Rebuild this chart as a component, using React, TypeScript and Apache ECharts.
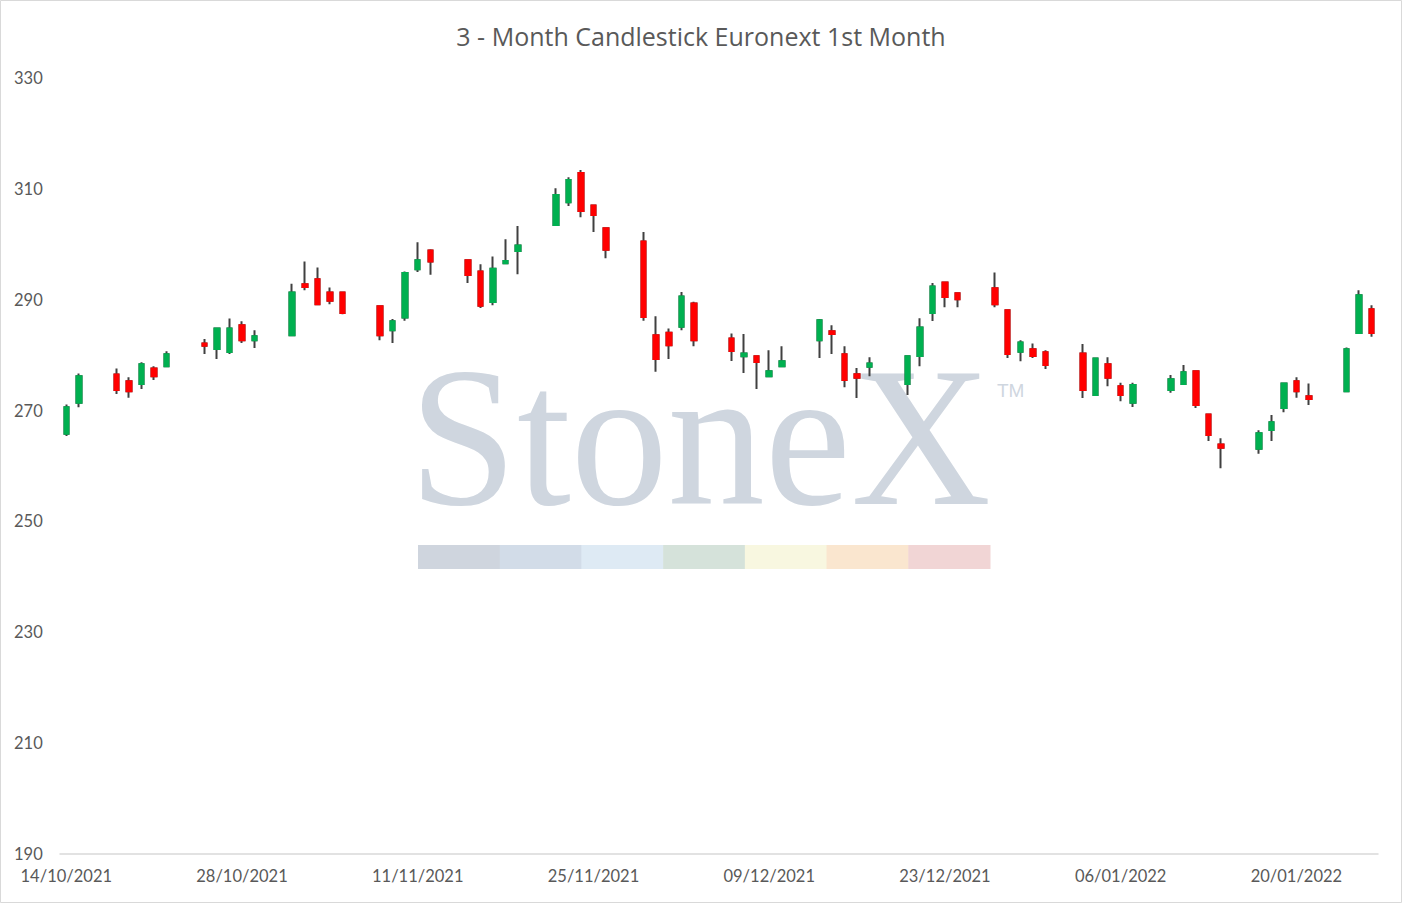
import React, { useEffect, useRef } from "react";
import * as echarts from "echarts";

const TITLE = "3 - Month Candlestick Euronext 1st Month";

const TRADING_DAYS = [
  "14/10/2021", "15/10/2021",
  "18/10/2021", "19/10/2021", "20/10/2021", "21/10/2021", "22/10/2021",
  "25/10/2021", "26/10/2021", "27/10/2021", "28/10/2021", "29/10/2021",
  "01/11/2021", "02/11/2021", "03/11/2021", "04/11/2021", "05/11/2021",
  "08/11/2021", "09/11/2021", "10/11/2021", "11/11/2021", "12/11/2021",
  "15/11/2021", "16/11/2021", "17/11/2021", "18/11/2021", "19/11/2021",
  "22/11/2021", "23/11/2021", "24/11/2021", "25/11/2021", "26/11/2021",
  "29/11/2021", "30/11/2021", "01/12/2021", "02/12/2021", "03/12/2021",
  "06/12/2021", "07/12/2021", "08/12/2021", "09/12/2021", "10/12/2021",
  "13/12/2021", "14/12/2021", "15/12/2021", "16/12/2021", "17/12/2021",
  "20/12/2021", "21/12/2021", "22/12/2021", "23/12/2021", "24/12/2021",
  "27/12/2021", "28/12/2021", "29/12/2021", "30/12/2021", "31/12/2021",
  "03/01/2022", "04/01/2022", "05/01/2022", "06/01/2022", "07/01/2022",
  "10/01/2022", "11/01/2022", "12/01/2022", "13/01/2022", "14/01/2022",
  "17/01/2022", "18/01/2022", "19/01/2022", "20/01/2022", "21/01/2022",
  "24/01/2022", "25/01/2022", "26/01/2022",
];

const OPEN = [
  265.8, 271.4,
  276.5, 275.3, 274.8, 277.6, 278.0,
  282.1, 281.1, 280.55, 285.4, 282.7,
  283.6, 292.8, 293.7, 291.3, 291.3,
  288.8, 284.5, 286.8, 295.5, 298.9,
  297.1, 295.1, 289.6, 296.6, 298.8,
  303.5, 307.6, 312.85, 307.0, 302.9,
  300.5, 283.6, 284.05, 285.1, 289.3,
  283.0, 279.8, 279.8, 276.2, 278.0,
  282.7, 284.3, 280.15, 276.55, 277.9,
  274.8, 279.85, 287.6, 293.1, 291.15,
  292.05, 288.1, 280.6, 281.05, 280.5,
  280.3, 272.8, 278.35, 274.4, 271.4,
  273.7, 274.8, 277.1, 269.3, 263.9,
  263.1, 266.5, 270.45, 275.3, 272.6,
  273.5, 284.0, 288.3,
];

const CLOSE = [
  270.6, 276.2,
  273.7, 273.5, 278.35, 276.2, 280.15,
  281.7, 284.8, 284.8, 282.7, 283.4,
  291.3, 292.3, 289.2, 289.8, 287.6,
  283.6, 286.1, 294.8, 297.1, 296.9,
  294.45, 288.9, 295.6, 297.0, 299.8,
  308.9, 311.6, 306.0, 305.3, 299.0,
  286.9, 279.3, 281.8, 290.6, 282.7,
  280.75, 280.3, 278.75, 277.1, 278.9,
  286.3, 283.8, 275.5, 275.9, 278.5,
  279.8, 285.0, 292.4, 290.5, 290.1,
  289.2, 280.2, 282.3, 279.85, 278.2,
  273.7, 279.4, 275.9, 272.8, 274.6,
  275.65, 276.9, 271.0, 265.6, 263.3,
  265.9, 267.9, 274.9, 273.5, 272.1,
  281.05, 290.8, 284.0,
];

const LOW = [
  265.4, 270.6,
  273.0, 272.3, 273.9, 275.5, 278.0,
  280.2, 279.3, 280.2, 282.2, 281.3,
  283.4, 291.7, 289.0, 289.2, 287.4,
  282.7, 282.2, 286.2, 295.0, 294.5,
  293.0, 288.5, 289.0, 296.4, 294.6,
  303.4, 306.9, 304.9, 302.2, 297.5,
  286.2, 277.0, 279.3, 284.5, 281.6,
  278.95, 276.8, 273.9, 276.2, 278.0,
  279.5, 280.2, 274.2, 272.25, 276.2,
  272.8, 278.0, 286.15, 288.65, 288.65,
  288.65, 279.5, 278.9, 279.5, 277.5,
  272.25, 272.7, 274.4, 271.7, 270.65,
  273.2, 274.7, 270.45, 264.5, 259.6,
  262.2, 264.5, 269.7, 272.3, 271.0,
  273.5, 283.9, 283.3,
];

const HIGH = [
  271.1, 276.7,
  277.6, 276.0, 278.7, 278.0, 280.7,
  282.9, 284.9, 286.6, 286.1, 284.5,
  292.9, 296.9, 295.8, 292.2, 291.4,
  289.0, 286.5, 295.1, 300.35, 299.1,
  297.2, 296.4, 297.8, 300.9, 303.3,
  310.1, 312.1, 313.4, 307.1, 303.0,
  302.2, 287.0, 284.8, 291.4, 289.65,
  283.9, 283.8, 279.9, 280.9, 281.6,
  286.5, 285.4, 281.6, 277.7, 279.6,
  280.0, 286.65, 293.0, 293.2, 291.3,
  294.9, 288.2, 282.7, 282.1, 280.9,
  282.0, 279.5, 279.6, 275.0, 275.0,
  276.4, 278.2, 277.2, 269.4, 265.0,
  266.45, 269.2, 275.0, 276.0, 274.9,
  281.4, 291.7, 289.0,
];

const Y_MIN = 190;
const Y_MAX = 330;
const Y_STEP = 20;

const WATERMARK_COLORS = [
  "#cfd5de", "#d2dce8", "#deeaf4", "#d5e2da", "#f8f7e0", "#fae6cf", "#f1d5d5",
];

function buildCalendar(): string[] {
  const out: string[] = [];
  const d = new Date(Date.UTC(2021, 9, 14));
  const end = Date.UTC(2022, 0, 26);
  while (d.getTime() <= end) {
    const dd = String(d.getUTCDate()).padStart(2, "0");
    const mm = String(d.getUTCMonth() + 1).padStart(2, "0");
    out.push(`${dd}/${mm}/${d.getUTCFullYear()}`);
    d.setUTCDate(d.getUTCDate() + 1);
  }
  return out;
}

export default function App() {
  const ref = useRef<HTMLDivElement>(null);

  useEffect(() => {
    document.body.style.margin = "0";
    if (!ref.current) return;
    const chart = echarts.init(ref.current, undefined, { renderer: "svg" });

    const cats = buildCalendar();
    const empty = ["-", "-", "-", "-"];
    const wickData = cats.map((c) => {
      const i = TRADING_DAYS.indexOf(c);
      return i < 0 ? empty : [OPEN[i], CLOSE[i], LOW[i], HIGH[i]];
    });
    const bodyData = cats.map((c) => {
      const i = TRADING_DAYS.indexOf(c);
      return i < 0
        ? empty
        : [OPEN[i], CLOSE[i], Math.min(OPEN[i], CLOSE[i]), Math.max(OPEN[i], CLOSE[i])];
    });

    const barX0 = 418;
    const barW = (990 - 418) / WATERMARK_COLORS.length;
    const graphics: any[] = [
      {
        type: "rect",
        z: -20,
        silent: true,
        shape: { x: 0.5, y: 0.5, width: 1401, height: 902 },
        style: { fill: "#ffffff", stroke: "#d9d9d9", lineWidth: 1 },
      },
      {
        type: "text",
        z: -10,
        silent: true,
        x: 409,
        y: 436,
        scaleX: 0.97,
        style: {
          text: "StoneX",
          fontFamily: "Liberation Serif",
          fontSize: 200,
          fill: "#cfd6df",
          align: "left",
          verticalAlign: "middle",
        },
      },
      {
        type: "text",
        z: -10,
        silent: true,
        x: 997,
        y: 390,
        style: {
          text: "TM",
          fontFamily: "Liberation Sans",
          fontSize: 19,
          fill: "#cfd6df",
          align: "left",
          verticalAlign: "middle",
        },
      },
      ...WATERMARK_COLORS.map((col, k) => ({
        type: "rect",
        z: -10,
        silent: true,
        shape: { x: barX0 + k * barW, y: 545, width: barW + 0.5, height: 24 },
        style: { fill: col },
      })),
    ];

    chart.setOption({
      animation: false,
      backgroundColor: "transparent",
      title: {
        text: TITLE,
        left: "center",
        top: 18,
        padding: 5,
        textStyle: {
          fontFamily: "Open Sans",
          fontSize: 25,
          fontWeight: "normal",
          color: "#595959",
          lineHeight: 25,
        },
      },
      graphic: graphics,
      grid: { left: 60, right: 24, top: 78, bottom: 49, containLabel: false },
      xAxis: {
        type: "category",
        data: cats,
        boundaryGap: true,
        axisLine: { show: true, lineStyle: { color: "#d9d9d9", width: 1.5 } },
        axisTick: { show: false },
        splitLine: { show: false },
        axisLabel: {
          interval: 13,
          color: "#595959",
          fontFamily: "Lato",
          fontSize: 16.5,
          margin: 13,
        },
      },
      yAxis: {
        type: "value",
        min: Y_MIN,
        max: Y_MAX,
        interval: Y_STEP,
        axisLine: { show: false },
        axisTick: { show: false },
        splitLine: { show: false },
        axisLabel: {
          color: "#595959",
          fontFamily: "Lato",
          fontSize: 16.5,
          align: "left",
          margin: 46,
        },
      },
      series: [
        {
          type: "candlestick",
          data: wickData,
          barWidth: 5,
          silent: true,
          itemStyle: {
            color: "#00b050",
            color0: "#ff0000",
            borderColor: "#404040",
            borderColor0: "#404040",
            borderColorDoji: "#404040",
            borderWidth: 2,
          },
        },
        {
          type: "candlestick",
          data: bodyData,
          barWidth: 5,
          silent: true,
          itemStyle: {
            color: "#00b050",
            color0: "#ff0000",
            borderColor: "#00b050",
            borderColor0: "#ff0000",
            borderWidth: 2,
          },
        },
      ],
    });

    return () => chart.dispose();
  }, []);

  return <div ref={ref} style={{ width: 1402, height: 903 }} />;
}
